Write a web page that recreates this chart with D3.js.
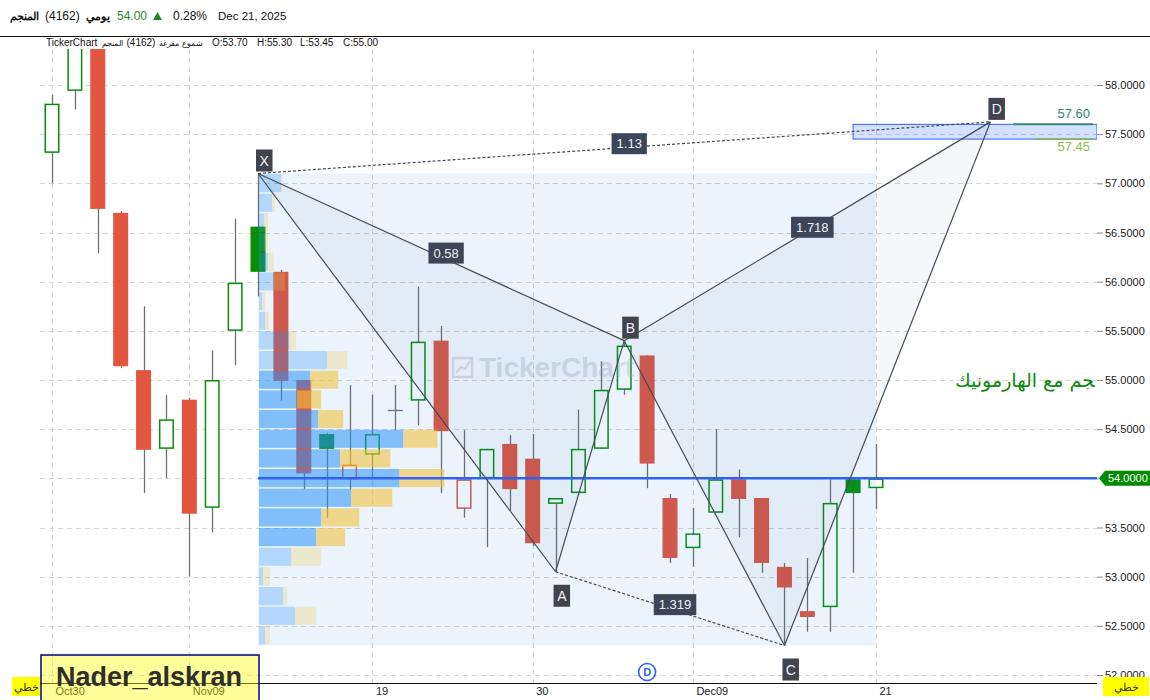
<!DOCTYPE html>
<meta charset="utf-8">
<style>
    body { margin: 0; background: #fff; }
    svg { display: block; font-family: "Liberation Sans", Arial, sans-serif; }
    .ax text { font-size: 11px; fill: #1a1a1a; }
    .ax line { stroke: #8a8a8a; }
</style>
<body>
<script src="https://cdn.jsdelivr.net/npm/d3@7"></script>
<script>
// daily candles (Tadawul, Sun-Thu)
var dates = ["2025-10-30", "2025-11-02", "2025-11-03", "2025-11-04", "2025-11-05", "2025-11-06",
    "2025-11-09", "2025-11-10", "2025-11-11", "2025-11-12", "2025-11-13", "2025-11-16", "2025-11-17",
    "2025-11-18", "2025-11-19", "2025-11-20", "2025-11-23", "2025-11-24", "2025-11-25", "2025-11-26",
    "2025-11-27", "2025-11-30", "2025-12-01", "2025-12-02", "2025-12-03", "2025-12-04", "2025-12-07",
    "2025-12-08", "2025-12-09", "2025-12-10", "2025-12-11", "2025-12-14", "2025-12-15", "2025-12-16",
    "2025-12-17", "2025-12-18", "2025-12-21"];
var opens  = [57.31, 57.94, 58.75, 56.70, 55.10, 54.30, 54.80, 53.70, 55.50, 56.56, 56.10, 55.00, 54.45,
    53.99, 54.24, 54.69, 54.79, 55.40, 53.69, 54.00, 54.35, 54.20, 53.74, 53.85, 54.30, 54.90, 55.25,
    53.80, 53.29, 53.65, 53.99, 53.80, 53.10, 52.65, 52.69, 53.99, 53.90];
var highs  = [57.90, 58.85, 58.90, 56.72, 55.75, 54.85, 54.82, 55.30, 56.64, 57.10, 56.12, 55.00, 54.46,
    54.95, 54.85, 54.95, 55.95, 55.55, 54.49, 54.30, 54.44, 54.45, 53.80, 54.70, 55.19, 55.40, 55.25,
    53.84, 53.70, 54.50, 54.09, 53.80, 53.14, 53.19, 53.99, 53.99, 54.35];
var lows   = [57.00, 57.75, 56.29, 55.12, 53.85, 54.00, 53.00, 53.45, 55.15, 55.85, 54.79, 53.89, 53.60,
    53.89, 53.99, 54.49, 54.54, 53.85, 53.60, 53.30, 53.67, 53.31, 53.05, 53.85, 54.30, 54.85, 53.90,
    53.14, 53.10, 53.65, 53.40, 53.04, 52.30, 52.44, 52.44, 53.04, 53.69];
var closes = [57.81, 58.70, 56.74, 55.14, 54.29, 54.60, 53.64, 55.00, 55.99, 56.10, 54.99, 54.05, 54.30,
    54.14, 54.45, 54.69, 55.39, 54.48, 53.99, 54.30, 53.89, 53.34, 53.80, 54.30, 54.90, 55.35, 54.15,
    53.19, 53.44, 53.99, 53.79, 53.14, 52.89, 52.59, 53.75, 53.85, 54.00];

var dateTicks = [0, 6, 14, 21, 28, 36];
var dateTickLabels = ["Oct30", "Nov09", "19", "30", "Dec09", "21"];
var priceTicks = [52, 52.5, 53, 53.5, 54, 54.5, 55, 55.5, 56, 56.5, 57, 57.5, 58];

// harmonic pattern XABCD
var patternNames = ["X", "A", "B", "C", "D"];
var patternIdx = [9, 22, 25, 32, 41];
var patternPrice = [57.10, 53.05, 55.40, 52.30, 57.625];
var przZone = [57.45, 57.60];

// volume profile from X to last bar, rows top -> bottom
var profileStart = 9;
var profileUp   = [22, 13, 5, 5, 9, 15, 3, 6, 30, 68, 51, 38, 59, 144, 81, 140, 92, 62, 57, 32, 4, 24, 36, 6];
var profileDown = [1, 3, 4, 4, 6, 11, 3, 4, 7, 20, 28, 24, 25, 34, 50, 45, 41, 38, 29, 30, 7, 4, 21, 5];

var width = 1150, height = 700;
var plotL = 40, plotR = 1097, plotT = 49, plotB = 683;

var svg = d3.select("body").append("svg")
    .attr("width", width)
    .attr("height", height);

var x = d3.scaleLinear().domain([0, 36]).range([52, 876]);
var y = d3.scaleLinear().domain([52, 58]).range([675, 85]);
var bw = 15;

svg.append("defs").append("clipPath").attr("id", "plot")
    .append("rect").attr("x", plotL).attr("y", plotT)
    .attr("width", plotR - plotL).attr("height", plotB - plotT);

// header
svg.append("line").attr("x1", 0).attr("x2", width).attr("y1", 36.5).attr("y2", 36.5)
    .attr("stroke", "#111");

var n = closes.length;
var last = closes[n - 1], prev = closes[n - 2];
var hdr = svg.append("g").style("font-size", "12px").attr("fill", "#111");
var hx = 10;
[["المنجم", true, 10], ["(4162)", false, 42], ["يومي", true, 84]].forEach(function (s) {
    var t = hdr.append("text").attr("x", Math.max(hx, s[2])).attr("y", 20).text(s[0]);
    if (s[1]) t.style("font-weight", "bold").style("font-size", "10.5px");
    hx = Math.max(hx, s[2]) + t.node().getComputedTextLength() + 6;
});
hdr.append("text").attr("x", 117).attr("y", 20).attr("fill", "#1f8b1f").text(last.toFixed(2));
hdr.append("path").attr("d", "M153,20L157.5,12L162,20Z").attr("fill", "#1f8b1f");
hdr.append("text").attr("x", 173).attr("y", 20).text(d3.format(".2%")(last / prev - 1));
hdr.append("text").attr("x", 218).attr("y", 20).style("font-size", "11.5px")
    .text(d3.timeFormat("%b %d, %Y")(d3.timeParse("%Y-%m-%d")(dates[n - 1])));

// second header line: title pieces squeezed into 46..201, then OHLC of the hovered bar
var hover = 7;
var l2 = svg.append("g").style("font-size", "10px").attr("fill", "#111");
var pieces = [["TickerChart", false], ["المنجم", true], ["(4162)", false], ["شموع مفرغة", true]];
var ptext = pieces.map(function (s) {
    return l2.append("text").attr("y", 46).text(s[0]);
});
var latinW = 0, arabW = 0;
ptext.forEach(function (t, k) {
    var w = t.node().getBBox().width;
    if (pieces[k][1]) arabW += w; else latinW += w;
});
var arabSize = Math.min(10, 10 * (155 - latinW - 12) / arabW);
var cx = 46;
ptext.forEach(function (t, k) {
    if (pieces[k][1]) t.style("font-size", arabSize + "px");
    t.attr("x", cx);
    cx += t.node().getBBox().width + 4;
});
var ohlc = ["O:" + opens[hover].toFixed(2), "H:" + highs[hover].toFixed(2),
    "L:" + lows[hover].toFixed(2), "C:" + closes[hover].toFixed(2)];
ohlc.forEach(function (s, k) {
    l2.append("text").attr("x", [212, 257, 300, 343][k]).attr("y", 46).text(s);
});

// grid
var grid = svg.append("g").attr("stroke", "#d6d6d6").attr("stroke-dasharray", "5,4");
grid.selectAll(".hg").data(priceTicks).enter().append("line")
    .attr("x1", plotL).attr("x2", plotR)
    .attr("y1", function (d) { return Math.round(y(d)) + 0.5; })
    .attr("y2", function (d) { return Math.round(y(d)) + 0.5; });
grid.selectAll(".vg").data(dateTicks).enter().append("line")
    .attr("y1", plotT).attr("y2", plotB)
    .attr("x1", function (d) { return Math.round(x(d)) + 0.5; })
    .attr("x2", function (d) { return Math.round(x(d)) + 0.5; });

var plot = svg.append("g").attr("clip-path", "url(#plot)");

// candles
var candles = closes.map(function (c, i) {
    return { i: i, o: opens[i], h: highs[i], l: lows[i], c: c, p: i ? closes[i - 1] : opens[i] };
});
function candleColor(d) {
    if (d.c === d.o) return "#6b7585";
    return d.c >= d.p ? "#068f06" : "#e2553f";
}
var cg = plot.selectAll(".candle").data(candles).enter().append("g");
cg.append("line")
    .attr("x1", function (d) { return Math.round(x(d.i)) + 0.5; })
    .attr("x2", function (d) { return Math.round(x(d.i)) + 0.5; })
    .attr("y1", function (d) { return y(d.h); })
    .attr("y2", function (d) { return y(d.l); })
    .attr("stroke", "#707070").attr("stroke-width", 1.3);
cg.filter(function (d) { return d.c !== d.o; }).append("rect")
    .attr("x", function (d) { return x(d.i) - bw / 2 + (d.c > d.o ? 0.75 : 0); })
    .attr("y", function (d) { return y(Math.max(d.o, d.c)) + (d.c > d.o ? 0.75 : 0); })
    .attr("width", function (d) { return d.c > d.o ? bw - 1.5 : bw; })
    .attr("height", function (d) {
        var h = Math.abs(y(d.o) - y(d.c));
        return Math.max(1, d.c > d.o ? h - 1.5 : h);
    })
    .attr("fill", function (d) { return d.c > d.o ? "#fff" : candleColor(d); })
    .attr("stroke", function (d) { return d.c > d.o ? candleColor(d) : "none"; })
    .attr("stroke-width", 1.5);
cg.filter(function (d) { return d.c === d.o; }).append("line")
    .attr("x1", function (d) { return x(d.i) - bw / 2; })
    .attr("x2", function (d) { return x(d.i) + bw / 2; })
    .attr("y1", function (d) { return y(d.c); })
    .attr("y2", function (d) { return y(d.c); })
    .attr("stroke", candleColor).attr("stroke-width", 1.3);

// watermark
var wm = plot.append("g").attr("opacity", 0.3);
wm.append("rect").attr("x", 453).attr("y", 358).attr("width", 19).attr("height", 19)
    .attr("fill", "none").attr("stroke", "#9aa6b5").attr("stroke-width", 2.5);
wm.append("path").attr("d", "M456,373L461,367L465,369L470,361").attr("fill", "none")
    .attr("stroke", "#9aa6b5").attr("stroke-width", 2);
wm.append("text").attr("x", 479).attr("y", 377).style("font-size", "28px")
    .style("font-weight", "bold").attr("fill", "#9aa6b5").text("TickerChart");

// volume profile box
var sub = candles.slice(profileStart);
var vpHi = d3.max(sub, function (d) { return d.h; });
var vpLo = d3.min(sub, function (d) { return d.l; });
var rowStep = (vpHi - vpLo) / profileUp.length;
plot.append("rect")
    .attr("x", x(profileStart)).attr("y", y(vpHi))
    .attr("width", x(n - 1) - x(profileStart)).attr("height", y(vpLo) - y(vpHi))
    .attr("fill", "rgba(30,136,229,0.09)");

var totals = profileUp.map(function (u, k) { return u + profileDown[k]; });
var poc = totals.indexOf(d3.max(totals));
// value area 70%
var vaLo = poc, vaHi = poc, acc = totals[poc], target = 0.7 * d3.sum(totals);
while (acc < target) {
    var up = vaLo > 0 ? totals[vaLo - 1] : -1;
    var dn = vaHi < totals.length - 1 ? totals[vaHi + 1] : -1;
    if (up >= dn) { vaLo--; acc += up; } else { vaHi++; acc += dn; }
}
var vx = d3.scaleLinear().domain([0, d3.max(totals)])
    .range([0, (x(n - 1) - x(profileStart)) * 0.3]);
var rows = profileUp.map(function (u, k) {
    return { k: k, up: u, down: profileDown[k], top: vpHi - k * rowStep, va: k >= vaLo && k <= vaHi };
});
var x0 = x(profileStart) + 1;
var rg = plot.selectAll(".row").data(rows).enter().append("g");
rg.append("rect")
    .attr("x", x0)
    .attr("y", function (d) { return y(d.top) + 0.5; })
    .attr("width", function (d) { return vx(d.up); })
    .attr("height", function (d) { return y(d.top - rowStep) - y(d.top) - 1.5; })
    .attr("fill", function (d) { return d.va ? "rgba(40,145,247,0.54)" : "rgba(40,145,247,0.28)"; });
rg.append("rect")
    .attr("x", function (d) { return x0 + vx(d.up); })
    .attr("y", function (d) { return y(d.top) + 0.5; })
    .attr("width", function (d) { return vx(d.down); })
    .attr("height", function (d) { return y(d.top - rowStep) - y(d.top) - 1.5; })
    .attr("fill", function (d) { return d.va ? "rgba(240,194,60,0.58)" : "rgba(240,194,60,0.25)"; });

// POC line
var pocPrice = vpHi - (poc + 0.5) * rowStep;
plot.append("line").attr("x1", x(profileStart)).attr("x2", plotR)
    .attr("y1", y(pocPrice)).attr("y2", y(pocPrice))
    .attr("stroke", "#2f62f5").attr("stroke-width", 2.5);

// PRZ zone
plot.append("rect").attr("x", x(35)).attr("y", y(przZone[1]))
    .attr("width", plotR - x(35)).attr("height", y(przZone[0]) - y(przZone[1]))
    .attr("fill", "rgba(41,98,255,0.2)").attr("stroke", "#2962ff").attr("stroke-width", 1);
var przCol = ["#86b86a", "#3a8a76"];
var przText = ["#8bc34a", "#2e8b7a"];
[0, 1].forEach(function (k) {
    var yy = y(przZone[k]);
    plot.append("line").attr("x1", x(k ? 42 : 43)).attr("x2", plotR - 4)
        .attr("y1", yy).attr("y2", yy).attr("stroke", przCol[k]).attr("stroke-width", 2);
    plot.append("text").attr("x", plotR - 7).attr("y", k ? yy - 6 : yy + 12)
        .attr("text-anchor", "end").style("font-size", "13px").attr("fill", przText[k])
        .text(przZone[k].toFixed(2));
});

// harmonic pattern
var pts = patternNames.map(function (nm, k) {
    return { name: nm, px: x(patternIdx[k]), py: y(patternPrice[k]), v: patternPrice[k] };
});
function tri(a, b, c) {
    return "M" + [a, b, c].map(function (p) { return p.px + "," + p.py; }).join("L") + "Z";
}
plot.append("path").attr("d", tri(pts[0], pts[1], pts[2])).attr("fill", "rgba(40,60,90,0.045)");
plot.append("path").attr("d", tri(pts[2], pts[3], pts[4])).attr("fill", "rgba(40,60,90,0.045)");

var legs = [[0, 1, false], [1, 2, false], [2, 3, false], [3, 4, false], [0, 2, false], [2, 4, false],
    [0, 4, true], [1, 3, true]];
plot.selectAll(".leg").data(legs).enter().append("line")
    .attr("x1", function (d) { return pts[d[0]].px; })
    .attr("y1", function (d) { return pts[d[0]].py; })
    .attr("x2", function (d) { return pts[d[1]].px; })
    .attr("y2", function (d) { return pts[d[1]].py; })
    .attr("stroke", "#444b58").attr("stroke-width", 1.2)
    .attr("stroke-dasharray", function (d) { return d[2] ? "3,2" : null; });

function fmtRatio(r) { return String(+r.toFixed(3)); }
var P = patternPrice;
var ratios = [
    { a: 0, b: 2, r: Math.abs(P[2] - P[1]) / Math.abs(P[0] - P[1]) },
    { a: 0, b: 4, r: Math.abs(P[4] - P[1]) / Math.abs(P[0] - P[1]) },
    { a: 1, b: 3, r: Math.abs(P[2] - P[3]) / Math.abs(P[2] - P[1]) },
    { a: 2, b: 4, r: Math.abs(P[4] - P[3]) / Math.abs(P[2] - P[3]) }
];
ratios.forEach(function (d) {
    var mx = (pts[d.a].px + pts[d.b].px) / 2 + 5;
    var my = (pts[d.a].py + pts[d.b].py) / 2 - 4;
    var g = plot.append("g");
    var t = g.append("text").attr("x", mx).attr("y", my + 4.5).attr("text-anchor", "middle")
        .style("font-size", "13px").attr("fill", "#eef2f7").text(fmtRatio(d.r));
    var w = t.node().getComputedTextLength() + 10;
    g.insert("rect", "text").attr("x", mx - w / 2).attr("y", my - 10.5)
        .attr("width", w).attr("height", 21).attr("fill", "#3c4658");
});

pts.forEach(function (p, k) {
    var above = k % 2 === 0;
    var top = above ? p.py - 24 : p.py + 13;
    plot.append("rect").attr("x", p.px - 2).attr("y", top).attr("width", 16.5).attr("height", 22)
        .attr("fill", "#41434f");
    plot.append("text").attr("x", p.px + 6.25).attr("y", top + 16).attr("text-anchor", "middle")
        .style("font-size", "14px").attr("fill", "#f0f0f0").text(p.name);
});

// note text, its first letter hidden by the plot edge (ZWJ keeps the joined form)
var note = "\u200Dجم مع الهارمونيك";
var nt = plot.append("text").attr("y", 387)
    .style("font-family", "'DejaVu Sans', sans-serif").style("font-size", "18px")
    .attr("fill", "#0a8a0a").text(note);
var nw = nt.node().getBBox().width;
nt.style("font-size", (18 * 140 / nw) + "px").attr("x", 955);

// event marker
var ev = plot.append("g");
ev.append("circle").attr("cx", x(26)).attr("cy", plotB - 11).attr("r", 8.5)
    .attr("fill", "#fff").attr("stroke", "#2962ff").attr("stroke-width", 1.6);
ev.append("text").attr("x", x(26)).attr("y", plotB - 7).attr("text-anchor", "middle")
    .style("font-size", "11px").style("font-weight", "bold").attr("fill", "#2962ff").text("D");

// axes
svg.append("g").attr("class", "ax").attr("transform", "translate(" + plotR + ",0)")
    .call(d3.axisRight(y).tickValues(priceTicks).tickSize(6).tickPadding(2).tickFormat(d3.format(".4f")))
    .call(function (g) {
        g.select(".domain").remove();
        g.selectAll(".tick").filter(function (d) { return d === last; }).select("text").remove();
    });

svg.append("line").attr("x1", plotL).attr("x2", plotR).attr("y1", plotB + 0.5).attr("y2", plotB + 0.5)
    .attr("stroke", "#111").attr("stroke-width", 1.2);
svg.append("g").attr("class", "ax").attr("transform", "translate(0," + plotB + ")")
    .call(d3.axisBottom(x).tickValues(dateTicks).tickSize(0).tickPadding(4)
        .tickFormat(function (d) { return dateTickLabels[dateTicks.indexOf(d)]; }))
    .call(function (g) {
        g.select(".domain").remove();
        g.selectAll("text").attr("text-anchor", "start").attr("dx", 3);
    });

// last price tag
var ly = y(last);
svg.append("path")
    .attr("d", "M1099," + ly + "L1105," + (ly - 7.5) + "L1150," + (ly - 7.5) + "L1150," + (ly + 7.5) + "L1105," + (ly + 7.5) + "Z")
    .attr("fill", "#008a00");
svg.append("text").attr("x", 1108).attr("y", ly + 4).style("font-size", "11px").attr("fill", "#fff")
    .text(last.toFixed(4));

// line-type buttons
[[12, 28], [1103, 46]].forEach(function (b) {
    svg.append("rect").attr("x", b[0]).attr("y", 677).attr("width", b[1]).attr("height", 19)
        .attr("fill", "#ffff00");
    svg.append("text").attr("x", b[0] + b[1] / 2).attr("y", 691).attr("text-anchor", "middle")
        .style("font-size", "11px").attr("fill", "#333").text("خطي");
});

// signature box
svg.append("rect").attr("x", 41).attr("y", 655).attr("width", 218).attr("height", 50)
    .attr("fill", "rgba(255,255,0,0.4)").attr("stroke", "#000080").attr("stroke-width", 1.5);
svg.append("text").attr("x", 56).attr("y", 686).style("font-size", "27px").style("font-weight", "bold")
    .attr("fill", "#2e2e2e").text("Nader_alskran");
</script>
</body>
